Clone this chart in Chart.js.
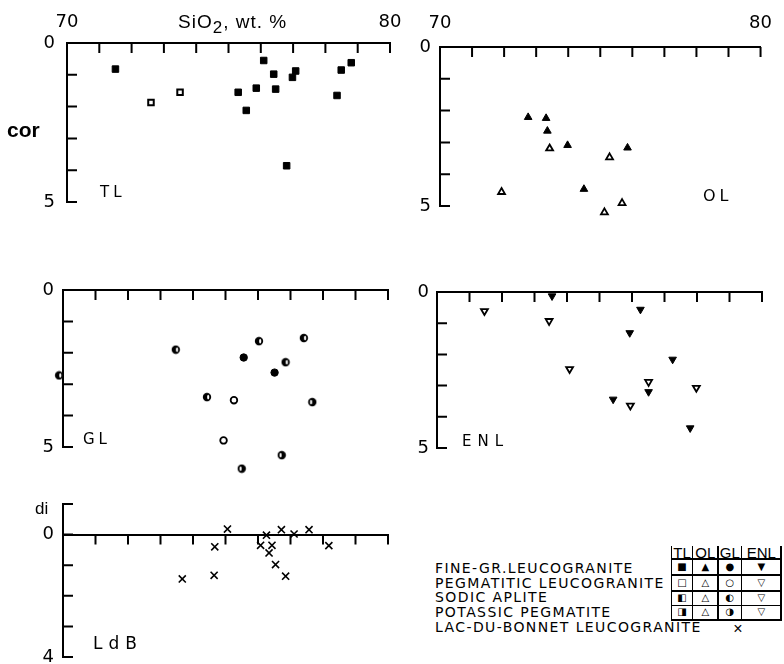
<!DOCTYPE html>
<html><head><meta charset="utf-8">
<script src="https://cdn.jsdelivr.net/npm/chart.js@4.4.0/dist/chart.umd.min.js"></script>
<style>
html,body{margin:0;padding:0;background:#fff;width:784px;height:664px;overflow:hidden;position:relative;font-family:"Liberation Sans",Arial,sans-serif;color:#000}
canvas{position:absolute}
.t{position:absolute;white-space:nowrap;line-height:1;color:#000}
.ln{position:absolute;background:#000}
</style></head><body>
<canvas id="cTL"></canvas><canvas id="cOL"></canvas><canvas id="cGL"></canvas><canvas id="cENL"></canvas><canvas id="cLdB"></canvas>
<script>
// ---------- DATA ----------
// x: SiO2 wt.%, y: corundum (cor) or diopside (di) normative
const xTickLabels = [70, 80];
const corTickLabels = [0, 5];
const diTickLabels = [0, 4];

const tlFineSiO2 = [71.5, 75.3, 75.55, 75.86, 76.09, 76.4, 76.46, 76.8, 76.98, 77.08, 78.36, 78.49, 78.8];
const tlFineCor  = [0.82, 1.55, 2.12, 1.42, 0.55, 0.98, 1.45, 3.86, 1.08, 0.88, 1.65, 0.85, 0.62];
const tlPegSiO2  = [72.6, 73.5];
const tlPegCor   = [1.87, 1.55];

const olFineSiO2 = [72.75, 73.31, 73.35, 73.98, 75.85, 74.49];
const olFineCor  = [2.21, 2.24, 2.64, 3.09, 3.17, 4.47];
const olPegSiO2  = [73.42, 75.29, 71.92, 75.68, 75.13];
const olPegCor   = [3.19, 3.47, 4.56, 4.91, 5.2];

const glFineSiO2 = [75.56, 76.51];
const glFineCor  = [2.15, 2.63];
const glPegSiO2  = [75.26, 74.94];
const glPegCor   = [3.51, 4.79];
const glSodSiO2  = [69.88, 73.47, 74.43, 76.03, 76.85, 77.41];
const glSodCor   = [2.72, 1.9, 3.41, 1.63, 2.3, 1.53];
const glPotSiO2  = [75.5, 76.73, 77.67];
const glPotCor   = [5.69, 5.26, 3.57];

const enlFineSiO2 = [73.54, 75.42, 75.93, 76.26, 76.51, 77.25, 77.79];
const enlFineCor  = [0.13, 3.44, 1.31, 0.56, 3.2, 2.16, 4.36];
const enlPegSiO2  = [71.46, 73.45, 74.08, 75.95, 76.51, 77.98];
const enlPegCor   = [0.61, 0.93, 2.47, 3.64, 2.88, 3.07];

const ldbSiO2 = [73.67, 74.65, 74.67, 75.06, 76.08, 76.26, 76.43, 76.34, 76.54, 76.72, 76.85, 77.11, 77.57, 78.18];
const ldbDi   = [1.45, 1.33, 0.4, -0.18, 0.35, 0.02, 0.35, 0.6, 0.98, -0.16, 1.36, -0.02, -0.16, 0.36];

const legendRows = ['FINE-GR.LEUCOGRANITE', 'PEGMATITIC LEUCOGRANITE', 'SODIC APLITE', 'POTASSIC PEGMATITE', 'LAC-DU-BONNET LEUCOGRANITE'];
const legendCols = ['TL', 'OL', 'GL', 'ENL'];
const legendSymbols = [['■','▲','●','▼'], ['□','△','○','▽'], ['◧','△','◐','▽'], ['◨','△','◑','▽']];

// ---------- helpers ----------
const pts = (xs, ys) => xs.map((x, i) => ({x, y: ys[i]}));

function halfCircle(side) {
  const c = document.createElement('canvas'); c.width = 10; c.height = 10;
  const g = c.getContext('2d');
  g.fillStyle = '#000'; g.beginPath(); g.arc(5, 5, 4.2, 0, Math.PI * 2); g.fill();
  g.fillStyle = '#fff'; g.beginPath(); g.ellipse(side > 0 ? 6.2 : 3.8, 5, 1.1, 2.2, 0, 0, Math.PI * 2); g.fill();
  return c;
}
const sodicCircle = halfCircle(1), potassicCircle = halfCircle(-1);

const S = {
  fSq: {pointStyle: 'rect', pointRadius: 4.6, backgroundColor: '#000', borderColor: '#000', borderWidth: 1},
  oSq: {pointStyle: 'rect', pointRadius: 3.9, backgroundColor: '#fff', borderColor: '#000', borderWidth: 2},
  fTri: {pointStyle: 'triangle', pointRadius: 4.4, backgroundColor: '#000', borderColor: '#000', borderWidth: 1},
  oTri: {pointStyle: 'triangle', pointRadius: 4.0, backgroundColor: '#fff', borderColor: '#000', borderWidth: 1.8},
  fCir: {pointStyle: 'circle', pointRadius: 3.7, backgroundColor: '#000', borderColor: '#000', borderWidth: 1},
  oCir: {pointStyle: 'circle', pointRadius: 3.3, backgroundColor: '#fff', borderColor: '#000', borderWidth: 1.8},
  sCir: {pointStyle: sodicCircle, pointRadius: 5},
  pCir: {pointStyle: potassicCircle, pointRadius: 5},
  fDn: {pointStyle: 'triangle', pointRotation: 180, pointRadius: 4.4, backgroundColor: '#000', borderColor: '#000', borderWidth: 1},
  oDn: {pointStyle: 'triangle', pointRotation: 180, pointRadius: 4.0, backgroundColor: '#fff', borderColor: '#000', borderWidth: 1.8},
  x: {pointStyle: 'crossRot', pointRadius: 5, backgroundColor: '#000', borderColor: '#000', borderWidth: 1.6}
};

// ticks pointing inward, drawn at the library's own tick positions
const inwardTicks = {
  id: 'inwardTicks',
  beforeDatasetsDraw(chart) {
    const {ctx, chartArea} = chart; const x = chart.scales.x, y = chart.scales.y;
    const pos = x.options.position;
    const axisY = (typeof pos === 'object') ? y.getPixelForValue(pos.y) : chartArea.top;
    ctx.save(); ctx.strokeStyle = '#000'; ctx.lineWidth = 2; ctx.beginPath();
    x.ticks.forEach(t => { const px = x.getPixelForValue(t.value); ctx.moveTo(px, axisY); ctx.lineTo(px, axisY + 10); });
    y.ticks.forEach(t => { const py = y.getPixelForValue(t.value); ctx.moveTo(chartArea.left, py); ctx.lineTo(chartArea.left + 10, py); });
    ctx.stroke(); ctx.restore();
  }
};
// let points that lie slightly beyond the axis range still be drawn
const expandArea = {
  id: 'expandArea',
  beforeDatasetsDraw(chart) {
    chart._savedArea = chart.chartArea;
    chart.chartArea = {left: 0, top: 0, right: chart.width, bottom: chart.height, width: chart.width, height: chart.height};
  },
  afterDatasetsDraw(chart) { chart.chartArea = chart._savedArea; }
};

const tickFont = {family: '"DejaVu Sans", sans-serif', size: 18};

function panel(id, area, o) {
  const W = 60, H = o.H, PR = 22, PB = 32;
  const cv = document.getElementById(id);
  const width = W + (area.R - area.L) + PR, height = H + (area.B - area.T) + PB;
  cv.width = width; cv.height = height;
  cv.style.left = (area.L - W) + 'px'; cv.style.top = (area.T - H) + 'px';
  const objPos = o.xPos && typeof o.xPos === 'object';
  new Chart(cv, {
    type: 'scatter',
    data: {datasets: o.datasets.map(d => Object.assign({data: d.data, clip: false}, d.style))},
    options: {
      responsive: false, animation: false, events: [], devicePixelRatio: 1,
      layout: {padding: {left: 0, top: objPos ? H : 0, right: PR, bottom: PB}, autoPadding: false},
      plugins: {legend: {display: false}, tooltip: {enabled: false}},
      scales: {
        x: {
          type: 'linear', position: o.xPos || 'top', min: 70, max: 80,
          grid: {display: true, drawOnChartArea: false, drawTicks: false},
          border: {display: true, color: '#000', width: 2},
          ticks: {display: !!o.xLabels, stepSize: 1, autoSkip: false, maxRotation: 0, padding: o.xPad || 10, color: '#000', font: tickFont,
            callback: v => (o.xLabels && o.xLabels.includes(v)) ? String(v) : ''},
          afterFit: s => { s.height = objPos ? 0 : H; }
        },
        y: {
          type: 'linear', position: 'left', reverse: true, min: o.yMin, max: o.yMax,
          grid: {display: true, drawOnChartArea: false, drawTicks: false},
          border: {display: true, color: '#000', width: 2},
          ticks: {stepSize: 1, autoSkip: false, padding: o.yPad || 10, color: '#000', font: tickFont,
            callback: v => o.yLabels.includes(v) ? String(v) : ''},
          afterFit: s => { s.width = W; }
        }
      }
    },
    plugins: [inwardTicks, expandArea]
  });
}

panel('cTL', {L: 67, T: 43, R: 390, B: 202}, {H: 45, xLabels: xTickLabels, xPad: 10, yLabels: corTickLabels, yPad: 12, yMin: 0, yMax: 5,
  datasets: [{data: pts(tlFineSiO2, tlFineCor), style: S.fSq}, {data: pts(tlPegSiO2, tlPegCor), style: S.oSq}]});
panel('cOL', {L: 440, T: 47, R: 763, B: 206}, {H: 45, xLabels: xTickLabels, xPad: 13, yLabels: corTickLabels, yPad: 9, yMin: 0, yMax: 5,
  datasets: [{data: pts(olFineSiO2, olFineCor), style: S.fTri}, {data: pts(olPegSiO2, olPegCor), style: S.oTri}]});
panel('cGL', {L: 63, T: 290, R: 388, B: 447}, {H: 30, yLabels: corTickLabels, yPad: 9, yMin: 0, yMax: 5,
  datasets: [{data: pts(glFineSiO2, glFineCor), style: S.fCir}, {data: pts(glPegSiO2, glPegCor), style: S.oCir},
             {data: pts(glSodSiO2, glSodCor), style: S.sCir}, {data: pts(glPotSiO2, glPotCor), style: S.pCir}]});
panel('cENL', {L: 437, T: 292, R: 762, B: 448}, {H: 30, yLabels: corTickLabels, yPad: 8, yMin: 0, yMax: 5,
  datasets: [{data: pts(enlFineSiO2, enlFineCor), style: S.fDn}, {data: pts(enlPegSiO2, enlPegCor), style: S.oDn}]});
panel('cLdB', {L: 63, T: 504, R: 388, B: 657}, {H: 25, xPos: {y: 0}, yLabels: diTickLabels, yPad: 9, yMin: -1, yMax: 4,
  datasets: [{data: pts(ldbSiO2, ldbDi), style: S.x}]});

// ---------- text ----------
function txt(s, x, base, size, o = {}) {
  const d = document.createElement('div'); d.className = 't'; d.innerHTML = s;
  d.style.fontSize = size + 'px'; d.style.left = x + 'px';
  const k = o.family && o.family.indexOf('DejaVu') >= 0 ? 0.88 : 0.8465;
  d.style.top = (base - k * size) + 'px';
  if (o.ls) d.style.letterSpacing = o.ls + 'px';
  if (o.w) d.style.fontWeight = o.w;
  if (o.center) d.style.transform = 'translateX(-50%)';
  if (o.family) d.style.fontFamily = o.family;
  document.body.appendChild(d); return d;
}
const DJ = '"DejaVu Sans", sans-serif';
txt('SiO<span style="font-size:17px;position:relative;top:5px">2</span>, wt. %', 178, 28.5, 19, {ls: 1});
txt('cor', 7, 137, 21, {w: 'bold'});
txt('TL', 100, 198, 15, {ls: 4, family: DJ});
txt('OL', 703, 202, 16, {ls: 4, family: DJ});
txt('GL', 83, 445, 15, {ls: 4, family: DJ});
txt('ENL', 462, 447, 15, {ls: 6, family: DJ});
txt('LdB', 93, 650, 17, {ls: 6, family: DJ});
txt('di', 35, 514, 17);

const rowBase = [573, 588, 602, 617, 632];
legendRows.forEach((r, i) => txt(r, 435, rowBase[i], 14, {ls: 1.4, family: DJ}));
txt('×', 738, 635, 16, {center: true});

const colX = [671.5, 692.5, 718, 741.5, 781];
const rowY = [559, 575, 591, 605.5, 620];
colX.forEach(x => { const d = document.createElement('div'); d.className = 'ln'; Object.assign(d.style, {left: (x - 0.75) + 'px', top: '546px', width: '1.5px', height: '74.5px'}); document.body.appendChild(d); });
rowY.forEach(y => { const d = document.createElement('div'); d.className = 'ln'; Object.assign(d.style, {left: '671px', top: (y - 0.75) + 'px', width: '110.5px', height: '1.5px'}); document.body.appendChild(d); });
legendCols.forEach((c, j) => txt(c, (colX[j] + colX[j + 1]) / 2, 558, 15, {center: true}));
legendSymbols.forEach((row, i) => row.forEach((s, j) => {
  txt(s, (colX[j] + colX[j + 1]) / 2, (rowY[i] + rowY[i + 1]) / 2 + 3.5, 10, {center: true, family: DJ});
}));
</script>
</body></html>
